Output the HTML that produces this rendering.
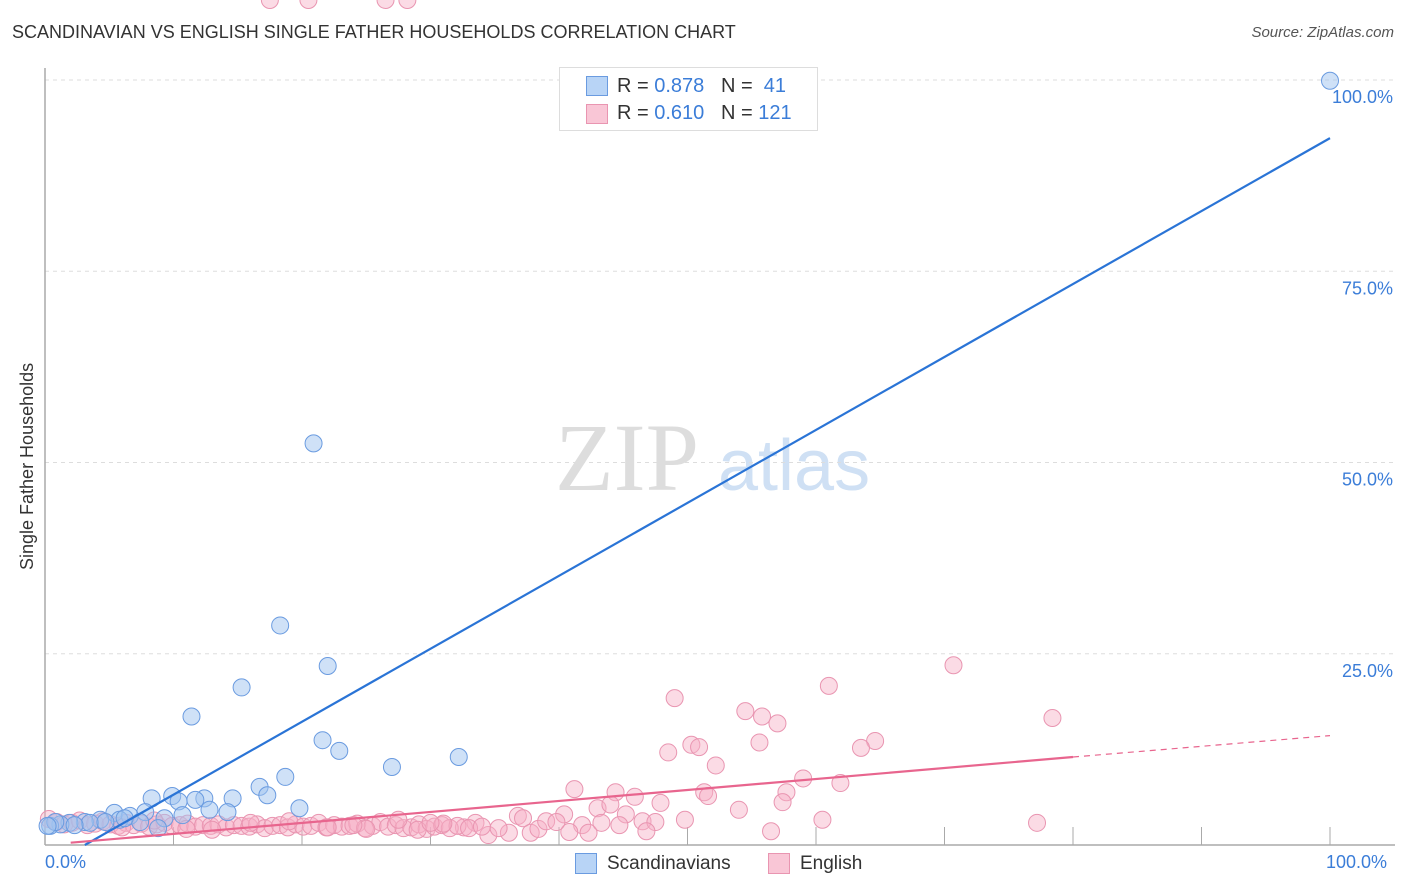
<!DOCTYPE html>
<html><head><meta charset="utf-8">
<style>
body{margin:0;background:#fff;font-family:"Liberation Sans",sans-serif;}
#wrap{position:relative;width:1406px;height:892px;overflow:hidden;}
.t{position:absolute;white-space:nowrap;}
</style></head>
<body>
<div id="wrap">
<div class="t" style="left:12px;top:22px;font-size:18px;color:#333;">SCANDINAVIAN VS ENGLISH SINGLE FATHER HOUSEHOLDS CORRELATION CHART</div>
<div class="t" style="right:12px;top:24px;font-size:15px;color:#555;font-style:italic;">Source: ZipAtlas.com</div>
<svg id="svg" width="1406" height="892" style="position:absolute;left:0;top:0"></svg>
</div>
<script>
const blueX=[100,20.9,18.3,22.0,15.3,11.4,21.6,22.9,32.2,27.0,18.7,16.7,17.3,14.6,12.4,8.3,9.9,10.4,11.7,19.8,12.8,14.2,10.7,7.8,9.3,5.4,6.6,4.3,3.1,1.9,1.2,0.4,0.8,5.8,3.5,2.3,8.8,7.4,4.7,6.2,0.2];
const blueY=[99.9,52.5,28.7,23.4,20.6,16.8,13.7,12.3,11.5,10.2,8.9,7.6,6.5,6.1,6.1,6.1,6.4,5.7,5.9,4.8,4.6,4.3,3.9,4.3,3.5,4.2,3.8,3.3,3.0,2.9,2.7,2.5,3.0,3.3,2.9,2.6,2.2,3.0,3.0,3.5,2.5];
const pinkX=[49.0,70.7,61.0,78.4,54.5,55.8,57.0,48.5,50.3,50.9,55.6,52.2,64.6,63.5,59.0,61.9,41.2,44.4,45.9,51.3,51.6,57.7,57.4,47.9,43.0,44.0,45.2,54.0,49.8,60.5,77.2,56.5,46.5,47.5,46.8,44.7,40.4,41.8,42.3,40.8,43.3,36.8,37.2,37.8,38.4,39.0,39.8,36.1,34.5,35.3,33.5,32.6,
0.3,0.9,1.5,2.1,2.7,3.3,3.9,4.5,5.1,5.7,6.3,6.9,7.5,8.1,8.7,9.3,9.9,10.5,11.1,11.7,12.3,12.9,13.5,14.1,14.7,15.3,15.9,16.5,17.1,17.7,18.3,18.9,19.5,20.1,20.7,21.3,21.9,22.5,23.1,23.7,24.3,24.9,25.5,26.1,26.7,27.3,27.9,28.5,29.1,29.7,30.3,30.9,31.5,32.1,8.5,13.0,16.0,22.0,25.0,27.5,29.0,31.0,33.0,34.0,11.0,19.0,24.0,30.0,6.0,17.5,20.5,26.5,28.2];
const pinkY=[19.2,23.5,20.8,16.6,17.5,16.8,15.9,12.1,13.1,12.8,13.4,10.4,13.6,12.7,8.7,8.1,7.3,6.9,6.3,6.9,6.4,6.9,5.6,5.5,4.8,5.3,4.0,4.6,3.3,3.3,2.9,1.8,3.1,3.0,1.8,2.6,4.0,2.6,1.6,1.7,2.9,3.8,3.5,1.6,2.1,3.1,3.0,1.6,1.3,2.2,2.9,2.3,
3.4,3.0,2.7,2.9,3.2,2.6,2.8,3.1,2.7,2.5,2.9,2.6,2.8,2.4,2.7,2.9,2.5,2.6,2.8,2.4,2.6,2.5,2.7,2.3,2.6,2.5,2.4,2.7,2.2,2.5,2.6,2.3,2.7,2.4,2.5,2.9,2.3,2.6,2.4,2.5,2.8,2.2,2.5,3.0,2.4,2.6,2.2,2.3,2.7,2.1,2.4,2.6,2.2,2.5,3.2,2.0,2.9,2.3,2.1,3.3,2.0,2.8,2.2,2.4,2.1,3.1,2.6,2.9,2.3];
const yTicks=[25,50,75,100];
const yTickLabels=["25.0%","50.0%","75.0%","100.0%"];
const xTicks=[10,20,30,40,50,60,70,80,90,100];
const blueTrend=[3.1,0,100,92.4];
const pinkTrend=[0,0.0,80,11.5,100,14.3];

const X0=45,X1=1330,Y0=845,Y1=80;
const sx=v=>X0+(X1-X0)*v/100, sy=v=>Y0-(Y0-Y1)*v/100;
const svg=document.getElementById('svg');const NS='http://www.w3.org/2000/svg';
function mk(tag,attrs,parent){const e=document.createElementNS(NS,tag);for(const k in attrs)e.setAttribute(k,attrs[k]);(parent||svg).appendChild(e);return e;}
// watermark
let wm=mk('text',{x:555,y:490,'font-size':96,fill:'#ddd','font-family':'Liberation Serif, serif'});wm.textContent='ZIP';


let wm2=mk('text',{x:718,y:490,'font-size':72,fill:'#cfe0f4','font-family':'Liberation Sans, sans-serif'});wm2.textContent='atlas';


// gridlines
yTicks.forEach((t,i)=>{
 const g=mk('line',{x1:X0,x2:1395,y1:sy(t),y2:sy(t),stroke:'#ddd','stroke-dasharray':'4,4'});
 
 
 const l=mk('text',{x:1393,y:sy(t)+23,'text-anchor':'end','font-size':18,fill:'#3b7dd8'});l.textContent=yTickLabels[i];
 
 
});
// axes
let ax=mk('line',{x1:X0,x2:X0,y1:68,y2:Y0,stroke:'#aaa','stroke-width':1.5});


let bx=mk('line',{x1:X0,x2:1395,y1:Y0,y2:Y0,stroke:'#aaa','stroke-width':1.5});


xTicks.forEach(t=>{const k=mk('line',{x1:sx(t),x2:sx(t),y1:Y0,y2:Y0-18,stroke:'#aaa'});
 
 });
// points
pinkX.forEach((x,i)=>{const c=mk('circle',{cx:sx(x),cy:sy(pinkY[i]),r:8.5,fill:'rgba(247,175,198,0.45)',stroke:'#e995b1','stroke-width':1});
 
 });
blueX.forEach((x,i)=>{const c=mk('circle',{cx:sx(x),cy:sy(blueY[i]),r:8.5,fill:'rgba(160,196,240,0.5)',stroke:'#6a9be0','stroke-width':1});
 
 });
// trends
let bt=mk('line',{x1:sx(blueTrend[0]),y1:sy(blueTrend[1]),x2:sx(blueTrend[2]),y2:sy(blueTrend[3]),stroke:'#2a74d6','stroke-width':2.2});


let pt=mk('line',{x1:sx(pinkTrend[0]+2),y1:sy(pinkTrend[1]+0.3),x2:sx(pinkTrend[2]),y2:sy(pinkTrend[3]),stroke:'#e8658e','stroke-width':2.2});


let pd=mk('line',{x1:sx(pinkTrend[2]),y1:sy(pinkTrend[3]),x2:sx(pinkTrend[4]),y2:sy(pinkTrend[5]),stroke:'#e8658e','stroke-width':1.2,'stroke-dasharray':'6,5'});


</script>
<div class="t" style="left:45px;top:852px;font-size:18px;color:#3b7dd8;">0.0%</div>
<div class="t" style="left:1326px;top:852px;font-size:18px;color:#3b7dd8;">100.0%</div>
<div class="t" style="left:17px;top:570px;font-size:18px;color:#333;transform:rotate(-90deg);transform-origin:0 0;">Single Father Households</div>
<div style="position:absolute;left:559px;top:67px;width:257px;height:62px;border:1px solid #ddd;background:#fff;font-size:20px;color:#333;">
 <div style="position:absolute;left:26px;top:8px;width:20px;height:18px;background:#b8d4f6;border:1px solid #6a9be0;"></div>
 <div class="t" style="left:57px;top:7px;">R = <span style="color:#3b7dd8">0.878</span>&nbsp;&nbsp;&nbsp;N = &nbsp;<span style="color:#3b7dd8">41</span></div>
 <div style="position:absolute;left:26px;top:36px;width:20px;height:18px;background:#f9c6d6;border:1px solid #e995b1;"></div>
 <div class="t" style="left:57px;top:34px;">R = <span style="color:#3b7dd8">0.610</span>&nbsp;&nbsp;&nbsp;N = <span style="color:#3b7dd8">121</span></div>
</div>
<div style="position:absolute;left:575px;top:853px;font-size:19px;color:#333;">
 <div style="position:absolute;left:0;top:0;width:20px;height:19px;background:#b8d4f6;border:1px solid #6a9be0;"></div>
 <div class="t" style="left:32px;top:0;">Scandinavians</div>
 <div style="position:absolute;left:193px;top:0;width:20px;height:19px;background:#f9c6d6;border:1px solid #e995b1;"></div>
 <div class="t" style="left:225px;top:0;">English</div>
</div>
</body></html>
